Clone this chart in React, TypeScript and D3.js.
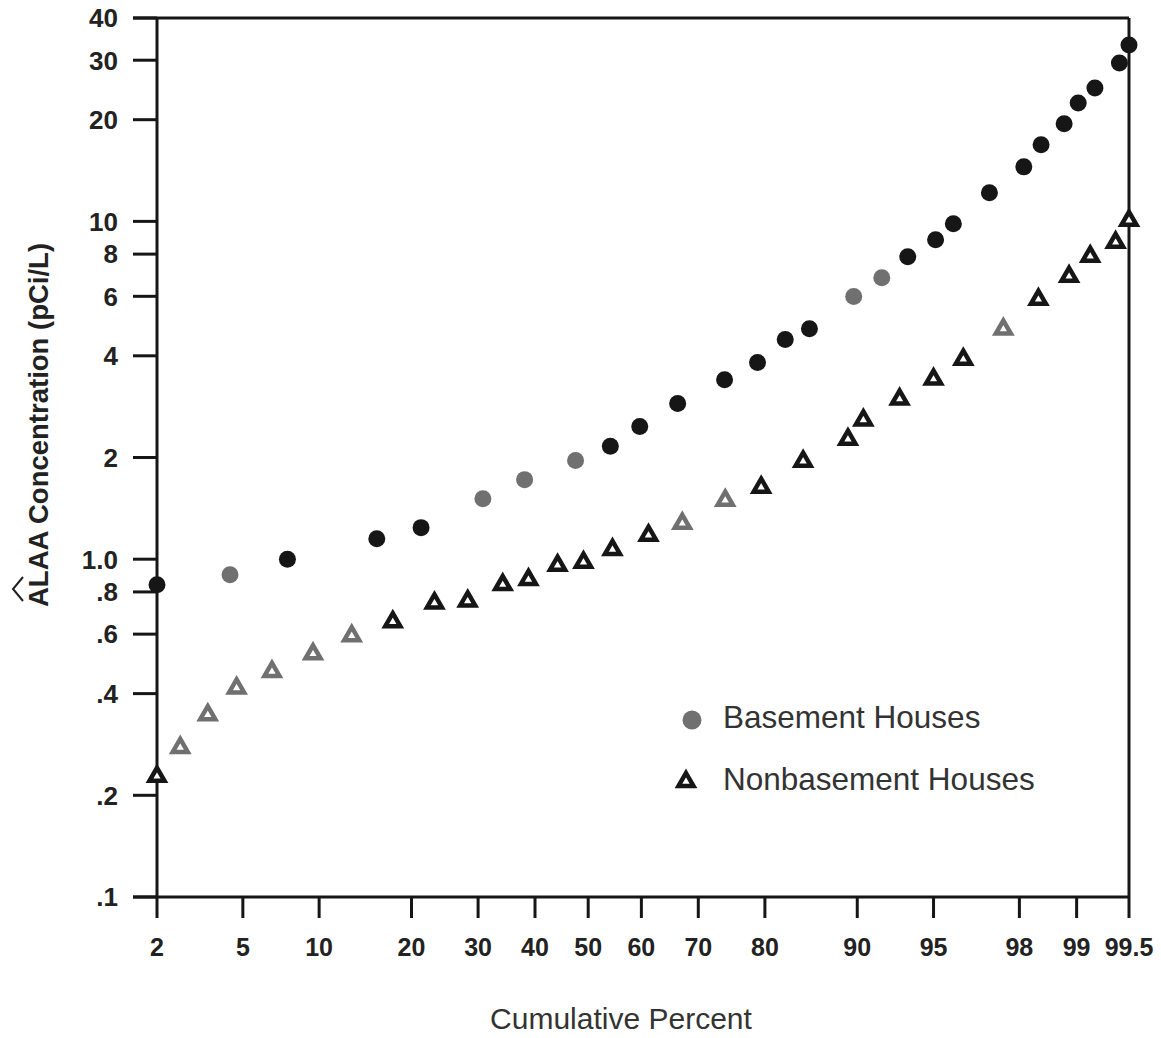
import React from "react";
import * as d3 from "d3";

// tick values and labels
const xTicks = [2, 5, 10, 20, 30, 40, 50, 60, 70, 80, 90, 95, 98, 99, 99.5];
const yTicks = [0.1, 0.2, 0.4, 0.6, 0.8, 1, 2, 4, 6, 8, 10, 20, 30, 40];
const yTickLabels = [".1", ".2", ".4", ".6", ".8", "1.0", "2", "4", "6", "8", "10", "20", "30", "40"];

// Basement houses: cumulative percent and concentration (pCi/L)
const basementPct = [
  2.0, 4.4, 7.6, 15.7, 21.3, 30.8, 38.1, 47.6, 54.2, 59.7, 66.5, 74.2, 79.0, 82.6,
  85.4, 89.7, 91.9, 93.6, 95.1, 95.9, 97.2, 98.1, 98.45, 98.83, 99.02, 99.21, 99.43, 99.5,
];
const basementVal = [
  0.84, 0.9, 1.0, 1.15, 1.24, 1.51, 1.72, 1.96, 2.16, 2.47, 2.89, 3.4, 3.82, 4.47,
  4.81, 5.99, 6.81, 7.86, 8.82, 9.84, 12.15, 14.5, 16.85, 19.44, 22.42, 24.83, 29.44, 33.3,
];
// points printed lighter in the scan
const basementGray = [1, 5, 6, 7, 15, 16];

// Nonbasement houses
const nonbasementPct = [
  2.0, 2.6, 3.5, 4.7, 6.6, 9.5, 13.0, 17.6, 23.2, 28.3, 34.2, 38.8, 44.2, 49.1, 54.6,
  61.3, 67.3, 74.3, 79.5, 84.7, 89.2, 90.5, 93.1, 95.0, 96.3, 97.6, 98.4, 98.9, 99.16, 99.4, 99.5,
];
const nonbasementVal = [
  0.23, 0.28, 0.35, 0.42, 0.47, 0.53, 0.6, 0.66, 0.75, 0.76, 0.85, 0.88, 0.97, 0.99, 1.08,
  1.19, 1.29, 1.51, 1.65, 1.97, 2.29, 2.61, 3.01, 3.45, 3.95, 4.85, 5.94, 6.95, 7.97, 8.76, 10.18,
];
const nonbasementGray = [1, 2, 3, 4, 5, 6, 16, 17, 25];

// inverse normal CDF (Acklam)
function probit(p: number) {
  const a = [-39.69683028665376, 220.9460984245205, -275.9285104469687, 138.357751867269, -30.66479806614716, 2.506628277459239];
  const b = [-54.47609879822406, 161.5858368580409, -155.6989798598866, 66.80131188771972, -13.28068155288572];
  const c = [-0.007784894002430293, -0.3223964580411365, -2.400758277161838, -2.549732539343734, 4.374664141464968, 2.938163982698783];
  const d = [0.007784695709041462, 0.3224671290700398, 2.445134137142996, 3.754408661907416];
  const pl = 0.02425;
  if (p < pl) {
    const q = Math.sqrt(-2 * Math.log(p));
    return (((((c[0] * q + c[1]) * q + c[2]) * q + c[3]) * q + c[4]) * q + c[5]) /
      ((((d[0] * q + d[1]) * q + d[2]) * q + d[3]) * q + 1);
  }
  if (p > 1 - pl) {
    const q = Math.sqrt(-2 * Math.log(1 - p));
    return -(((((c[0] * q + c[1]) * q + c[2]) * q + c[3]) * q + c[4]) * q + c[5]) /
      ((((d[0] * q + d[1]) * q + d[2]) * q + d[3]) * q + 1);
  }
  const q = p - 0.5;
  const r = q * q;
  return ((((((a[0] * r + a[1]) * r + a[2]) * r + a[3]) * r + a[4]) * r + a[5]) * q) /
    (((((b[0] * r + b[1]) * r + b[2]) * r + b[3]) * r + b[4]) * r + 1);
}

const W = 1161;
const H = 1038;
const left = 157;
const right = 1129;
const top = 18;
const bottom = 897;

const BLACK = "#161616";
const GRAY = "#707070";
const TEXT = "#222";

const triPath = "M0,-7L7.5,6L-7.5,6Z";

export default function App() {
  const xz = d3.scaleLinear().domain([probit(0.02), probit(0.995)]).range([left, right]);
  const x = (pct: number) => xz(probit(pct / 100));
  const y = d3.scaleLog().domain([0.1, 40]).range([bottom, top]);

  const basement = basementPct.map((p, i) => ({ p, v: basementVal[i], gray: basementGray.includes(i) }));
  const nonbasement = nonbasementPct.map((p, i) => ({ p, v: nonbasementVal[i], gray: nonbasementGray.includes(i) }));

  const font = "'Liberation Sans', Arial, Helvetica, sans-serif";

  return (
    <svg width={W} height={H} style={{ position: "absolute", left: 0, top: 0, background: "#fff" }} fontFamily={font}>
      <rect width={W} height={H} fill="#fff" />

      {/* frame */}
      <g stroke={BLACK} strokeWidth={3} fill="none">
        <line x1={left - 24} x2={right} y1={top} y2={top} />
        <line x1={right} x2={right} y1={top} y2={bottom} />
        <line x1={left - 24} x2={right} y1={bottom} y2={bottom} />
        <line x1={left} x2={left} y1={top} y2={bottom} />
      </g>

      {/* y axis ticks */}
      {yTicks.map((t, i) => (
        <g key={"y" + t}>
          <line x1={left - 24} x2={left} y1={y(t)} y2={y(t)} stroke={BLACK} strokeWidth={3} />
          <text x={118} y={y(t)} dy="0.36em" textAnchor="end" fontSize={26} fontWeight="bold" fill={TEXT}>
            {yTickLabels[i]}
          </text>
        </g>
      ))}

      {/* x axis ticks */}
      {xTicks.map((t) => (
        <g key={"x" + t}>
          <line x1={x(t)} x2={x(t)} y1={bottom} y2={bottom + 21} stroke={BLACK} strokeWidth={3} />
          <text x={x(t)} y={956} textAnchor="middle" fontSize={25} fontWeight="bold" fill={TEXT}>
            {t}
          </text>
        </g>
      ))}

      {/* axis titles */}
      <text x={621} y={1029} textAnchor="middle" fontSize={30} fill="#333">
        Cumulative Percent
      </text>
      <g transform="translate(38,423) rotate(-90)">
        <text x={-184} y={10} fontSize={27.5} fontWeight="bold" fill={TEXT}>
          ALAA Concentration (pCi/L)
        </text>
        <path d="M-178,-15L-166,-25L-154,-15" fill="none" stroke={TEXT} strokeWidth={2} />
      </g>

      {/* nonbasement triangles */}
      {nonbasement.map((d, i) => (
        <path
          key={"t" + i}
          d={triPath}
          transform={`translate(${x(d.p)},${y(d.v)})`}
          fill="#fff"
          stroke={d.gray ? GRAY : BLACK}
          strokeWidth={4.5}
        />
      ))}

      {/* basement circles */}
      {basement.map((d, i) => (
        <circle key={"c" + i} cx={x(d.p)} cy={y(d.v)} r={8.5} fill={d.gray ? GRAY : BLACK} />
      ))}

      {/* legend */}
      <circle cx={692} cy={720} r={9.5} fill={GRAY} />
      <text x={723} y={728} fontSize={31.5} fill="#333">
        Basement Houses
      </text>
      <path d={triPath} transform="translate(686,780)" fill="#fff" stroke={BLACK} strokeWidth={4.5} />
      <text x={723} y={790} fontSize={31.5} fill="#333">
        Nonbasement Houses
      </text>
    </svg>
  );
}
